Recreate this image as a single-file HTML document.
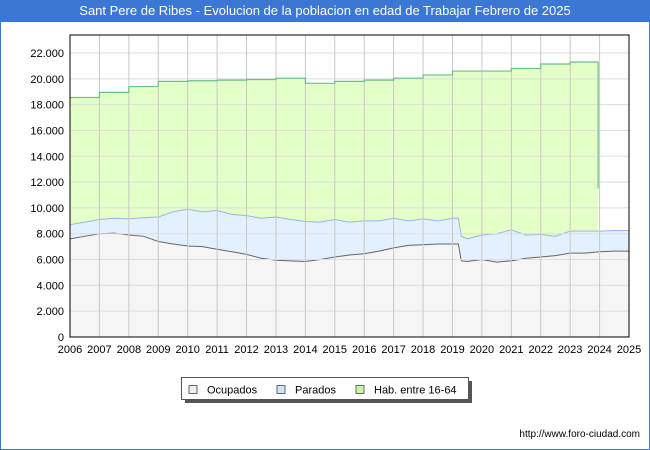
<!DOCTYPE html>
<html><head><meta charset="utf-8"><style>
body{margin:0;width:650px;height:450px;overflow:hidden;background:#fff;font-family:"Liberation Sans",sans-serif}
#wrap{position:absolute;left:0;top:0;width:648px;height:448px;border:1px solid #3a78d4;background:#fff}
#title{position:absolute;left:0;top:0;width:650px;height:22px;background:#3a78d4;color:#fff;font-size:13px;line-height:22px;text-align:center}
</style></head><body>
<div id="wrap"></div>
<div id="title">Sant Pere de Ribes - Evolucion de la poblacion en edad de Trabajar Febrero de 2025</div>
<svg id="chart" width="650" height="450" style="position:absolute;left:0;top:0"></svg>
<script>
const years=[2006,2006.5,2007,2007.5,2008,2008.5,2009,2009.5,2010,2010.5,2011,2011.5,2012,2012.5,2013,2013.5,2014,2014.5,2015,2015.5,2016,2016.5,2017,2017.5,2018,2018.5,2019,2019.2,2019.3,2019.5,2020,2020.5,2021,2021.5,2022,2022.5,2023,2023.5,2024,2024.5,2025];
const ocupados=[7600,7800,8000,8050,7900,7800,7400,7200,7050,7000,6800,6600,6400,6100,5950,5900,5850,6000,6200,6350,6450,6650,6900,7100,7150,7200,7200,7200,5900,5850,6000,5800,5900,6100,6200,6300,6500,6500,6600,6650,6650];
const parados=[1100,1100,1100,1150,1250,1450,1900,2500,2850,2700,3000,2900,3000,3100,3350,3200,3100,2900,2900,2550,2550,2350,2300,1900,2000,1800,2000,2000,1900,1750,1900,2200,2400,1800,1750,1500,1700,1700,1600,1600,1600];
const habYears=[2006,2007,2008,2009,2010,2011,2012,2013,2014,2015,2016,2017,2018,2019,2020,2021,2022,2023];
const hab=[18550,18950,19400,19800,19850,19900,19950,20050,19650,19800,19900,20050,20300,20600,20600,20800,21150,21300];
const habEnd=2023.95, habDrop=11500;
const yTicks=[0,2000,4000,6000,8000,10000,12000,14000,16000,18000,20000,22000];
const xTicks=[2006,2007,2008,2009,2010,2011,2012,2013,2014,2015,2016,2017,2018,2019,2020,2021,2022,2023,2024,2025];
const L=70,R=629,T=35,B=337;
const X=v=>L+(v-2006)/(2025-2006)*(R-L);
const Y=v=>B-v/22000*(B-53);
const svg=document.getElementById('chart');
const NS='http://www.w3.org/2000/svg';
function mk(tag,a){const e=document.createElementNS(NS,tag);for(const k in a)e.setAttribute(k,a[k]);svg.appendChild(e);return e;}
const fmt=v=>v.toLocaleString('de-DE');
// background
let bg=mk('rect',{x:L,y:T,width:R-L,height:B-T,fill:'#fff'});


// hab area
let hp=[];habYears.forEach((y,i)=>{const x0=X(y),x1=i<habYears.length-1?X(habYears[i+1]):X(habEnd);hp.push([x0,Y(hab[i])],[x1,Y(hab[i])]);});
hp.push([X(habEnd),Y(habDrop)]);
let hpath='M'+X(2006)+','+B+' '+hp.map(p=>'L'+p[0]+','+p[1]).join(' ')+' L'+X(habEnd)+','+B+'Z';
let ha=mk('path',{d:hpath,fill:'#e5ffc9'});


// total area
const tot=parados.map((p,i)=>p+ocupados[i]);
function area(vals,fill,stroke,name){
 const pts=years.map((y,i)=>X(y)+','+Y(vals[i]));
 let a=mk('path',{d:'M'+X(2006)+','+B+' L'+pts.join(' L')+' L'+X(2025)+','+B+'Z',fill:fill});
 
 
 let l=mk('polyline',{points:pts.join(' '),fill:'none',stroke:stroke,'stroke-width':1});
 
 
}
area(tot,'#e3f0fe','#9ab4ec','parados');
area(ocupados,'#f5f5f5','#666','ocupados');
// grid
yTicks.forEach(v=>{let g=mk('line',{x1:L,x2:R,y1:Y(v),y2:Y(v),stroke:'#ddd','stroke-width':1});
 
 let t=mk('text',{x:L-6,y:Y(v)+4,'text-anchor':'end','font-size':11,fill:'#000'});t.textContent=fmt(v);
 });
xTicks.forEach(v=>{let g=mk('line',{x1:X(v),x2:X(v),y1:T,y2:B,stroke:'#c8c8c8','stroke-width':1});
 
 let t=mk('text',{x:X(v),y:B+16,'text-anchor':'middle','font-size':11,fill:'#000'});t.textContent=v;
 });
// hab line
let hl=mk('polyline',{points:hp.map(p=>p.join(',')).join(' '),fill:'none',stroke:'#6cbf8a','stroke-width':1.2});

let fr=mk('rect',{x:L,y:T,width:R-L,height:B-T,fill:'none',stroke:'#000','stroke-width':1});

// legend
let sh=mk('rect',{x:185,y:381,width:287,height:22,fill:'#555'});

let lb=mk('rect',{x:181.5,y:377.5,width:287,height:22,fill:'#fff',stroke:'#555'});

[['Ocupados','#eee',189],['Parados','#cfe4fb',277],['Hab. entre 16-64','#c9f5a4',356]].forEach(e=>{
 let s=mk('rect',{x:e[2],y:385.5,width:8,height:8,fill:e[1],stroke:'#666'});
 
 let t=mk('text',{x:e[2]+18,y:393.5,'font-size':11,fill:'#000'});t.textContent=e[0];
 });
let u=mk('text',{x:640,y:437,'text-anchor':'end','font-size':10,fill:'#000'});u.textContent='http://www.foro-ciudad.com';

</script>
</body></html>
